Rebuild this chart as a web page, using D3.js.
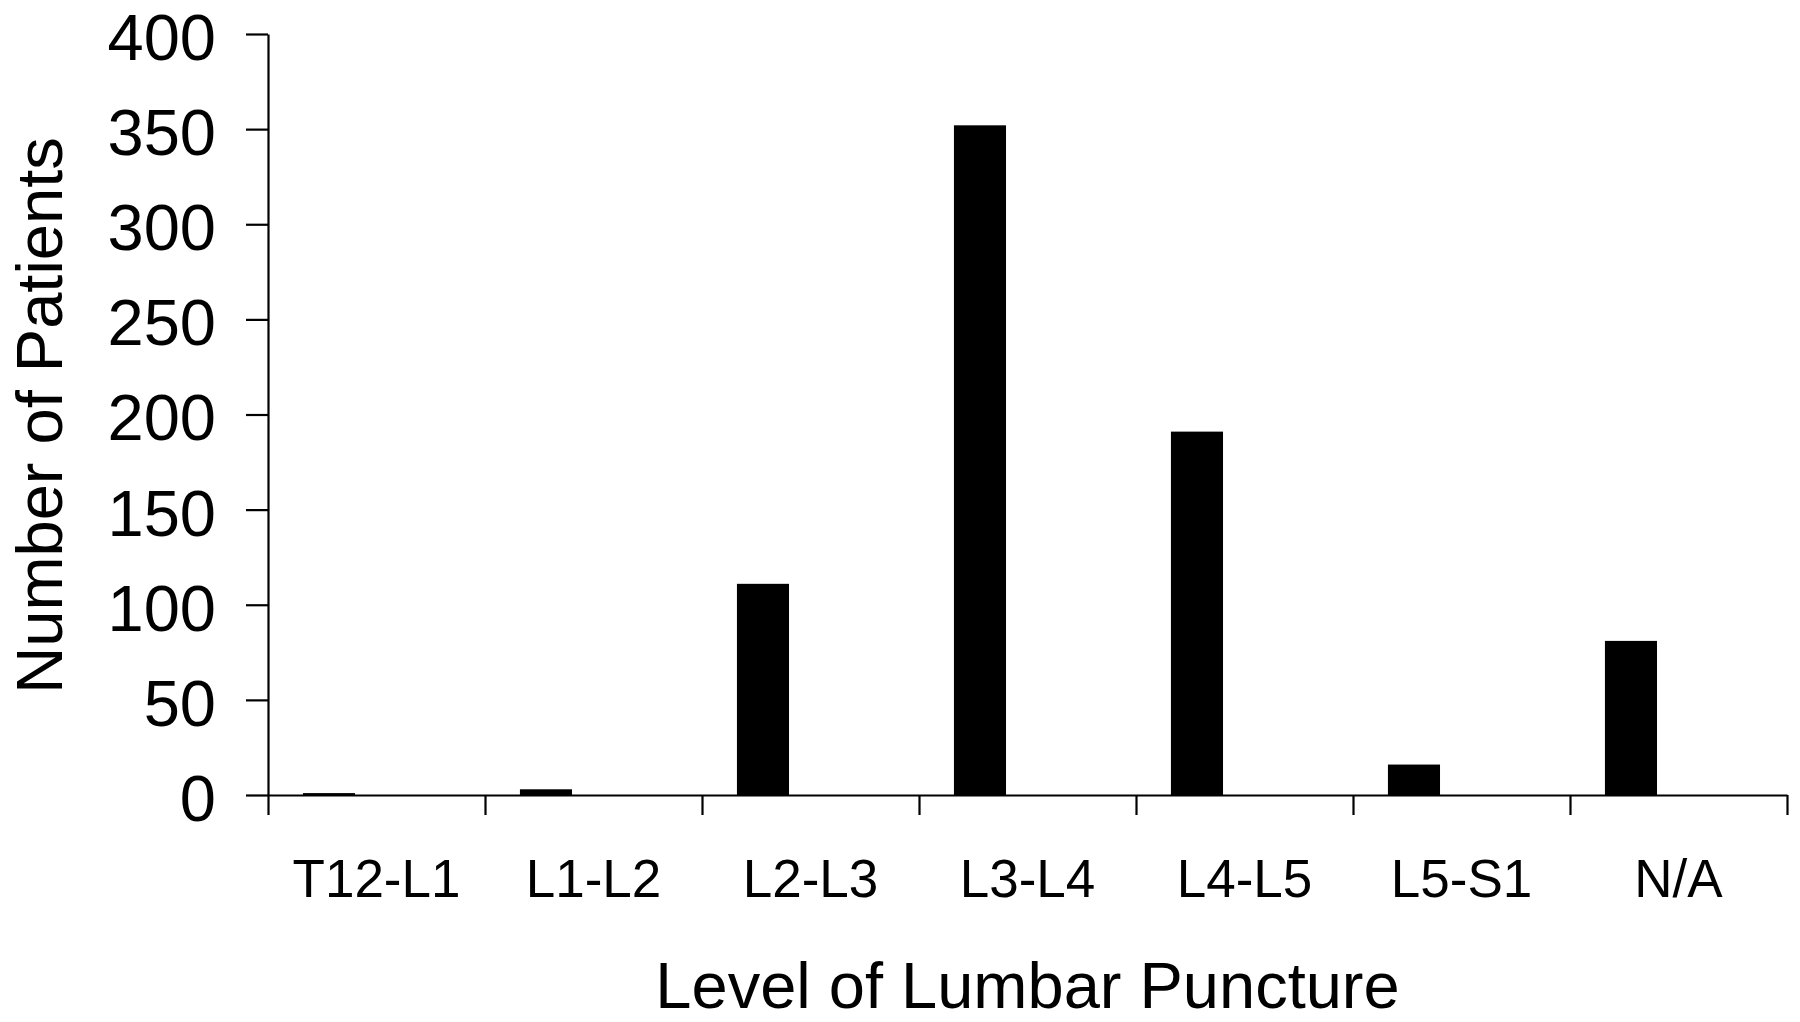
<!DOCTYPE html>
<html>
<head>
<meta charset="utf-8">
<script src="https://cdn.jsdelivr.net/npm/d3@7"></script>
<style>
  html, body { margin: 0; padding: 0; background: #fff; }
  svg { display: block; font-family: "Liberation Sans", Arial, sans-serif; }
</style>
</head>
<body>
<svg id="chart" width="1800" height="1022"></svg>
<script>
const categories = ["T12-L1", "L1-L2", "L2-L3", "L3-L4", "L4-L5", "L5-S1", "N/A"];
const patients = [1, 3, 111, 352, 191, 16, 81];
const yTicks = [0, 50, 100, 150, 200, 250, 300, 350, 400];
const xTitle = "Level of Lumbar Puncture";
const yTitle = "Number of Patients";

(function () {
  const svg = d3.select("#chart");
  const plotLeft = 268, plotRight = 1787, plotTop = 34, plotBottom = 795;

  const x = d3.scaleBand().domain(categories).range([plotLeft, plotRight]).paddingInner(0).paddingOuter(0);
  const y = d3.scaleLinear().domain([0, 400]).range([plotBottom, plotTop]);
  const edges = d3.scaleLinear().domain([0, categories.length]).range([plotLeft, plotRight]);

  // bars
  svg.append("g").selectAll("rect")
    .data(categories)
    .join("rect")
    .attr("x", (c) => x(c) + x.bandwidth() * 0.161)
    .attr("width", x.bandwidth() * 0.24)
    .attr("y", (c, i) => y(patients[i]))
    .attr("height", (c, i) => y(0) - y(patients[i]))
    .attr("fill", "#000");

  // y axis
  const yAxis = svg.append("g")
    .attr("transform", `translate(${plotLeft},0)`)
    .call(d3.axisLeft(y).tickValues(yTicks).tickSize(22).tickPadding(30).tickSizeOuter(0));
  yAxis.selectAll("text")
    .attr("font-size", 65)
    .attr("font-family", "Liberation Sans, Arial, sans-serif")
    .attr("fill", "#000")
    .attr("y", 2)
    .attr("dy", "0.36em");

  // x axis (ticks at category boundaries)
  svg.append("g")
    .attr("transform", `translate(0,${plotBottom})`)
    .call(d3.axisBottom(edges).tickValues(d3.range(categories.length + 1)).tickSize(20).tickSizeOuter(0).tickFormat(""));

  svg.selectAll(".domain, .tick line").attr("stroke", "#000").attr("stroke-width", 2.2);

  // category labels
  svg.append("g").selectAll("text")
    .data(categories)
    .join("text")
    .attr("x", (c) => x(c) + x.bandwidth() / 2)
    .attr("y", 897)
    .attr("text-anchor", "middle")
    .attr("font-size", 53)
    .attr("fill", "#000")
    .text((c) => c);

  // axis titles
  svg.append("text")
    .attr("x", (plotLeft + plotRight) / 2)
    .attr("y", 1008)
    .attr("text-anchor", "middle")
    .attr("font-size", 65)
    .attr("fill", "#000")
    .text(xTitle);

  svg.append("text")
    .attr("transform", `translate(62,${(plotTop + plotBottom) / 2 + 1}) rotate(-90)`)
    .attr("text-anchor", "middle")
    .attr("font-size", 65)
    .attr("fill", "#000")
    .text(yTitle);
})();
</script>
</body>
</html>
